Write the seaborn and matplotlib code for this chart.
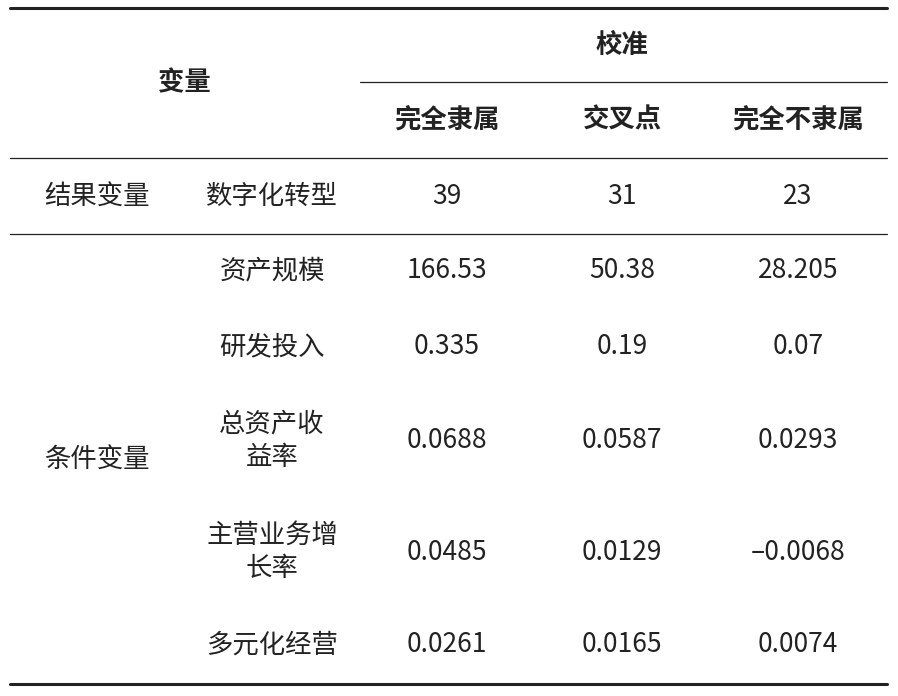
import matplotlib
matplotlib.use("Agg")
import matplotlib.pyplot as plt
import seaborn as sns

sns.set_theme(style="white")
plt.rcParams['font.family'] = ['Noto Sans CJK SC', 'DejaVu Sans']

# table content
group_header = "校准"
col_headers = ["完全隶属", "交叉点", "完全不隶属"]
row_groups = ["结果变量", "条件变量"]
variables = ["数字化转型", "资产规模", "研发投入", "总资产收\n益率", "主营业务增\n长率", "多元化经营"]
full_member = ["39", "166.53", "0.335", "0.0688", "0.0485", "0.0261"]
crossover = ["31", "50.38", "0.19", "0.0587", "0.0129", "0.0074"]
non_member = ["23", "28.205", "0.07", "0.0293", "–0.0068", "0.0074"]
crossover[5] = "0.0165"

W, H = 898, 696
fig = plt.figure(figsize=(W / 100, H / 100), dpi=100)
ax = fig.add_axes([0, 0, 1, 1])
ax.set_xlim(0, W)
ax.set_ylim(H, 0)
ax.axis("off")

col_x = [97, 272, 447, 622, 798]
row_y = [196, 271, 347, 441, 552, 645]
fs = 19
tc = "#222222"

# rules
ax.plot([10, 887], [8, 8], color=tc, lw=2.2)
ax.plot([360, 887], [82, 82], color=tc, lw=0.9)
ax.plot([10, 887], [158, 158], color=tc, lw=0.9)
ax.plot([10, 887], [234, 234], color=tc, lw=0.9)
ax.plot([10, 887], [684, 684], color=tc, lw=2.2)

# header
ax.text(184, 83, "变量", ha="center", va="center", fontsize=fs, fontweight="bold", color=tc)
ax.text(622, 45, group_header, ha="center", va="center", fontsize=fs, fontweight="bold", color=tc)
for x, h in zip(col_x[2:], col_headers):
    ax.text(x, 120, h, ha="center", va="center", fontsize=fs, fontweight="bold", color=tc)

# body
ax.text(col_x[0], row_y[0], row_groups[0], ha="center", va="center", fontsize=fs, color=tc)
ax.text(col_x[0], 459, row_groups[1], ha="center", va="center", fontsize=fs, color=tc)
for i, y in enumerate(row_y):
    ax.text(col_x[1], y, variables[i], ha="center", va="center", fontsize=fs, color=tc, linespacing=1.3)
    for x, vals in zip(col_x[2:], [full_member, crossover, non_member]):
        ax.text(x, y, vals[i], ha="center", va="center", fontsize=fs, color=tc)

fig.savefig("out.png", dpi=100, facecolor="white")
